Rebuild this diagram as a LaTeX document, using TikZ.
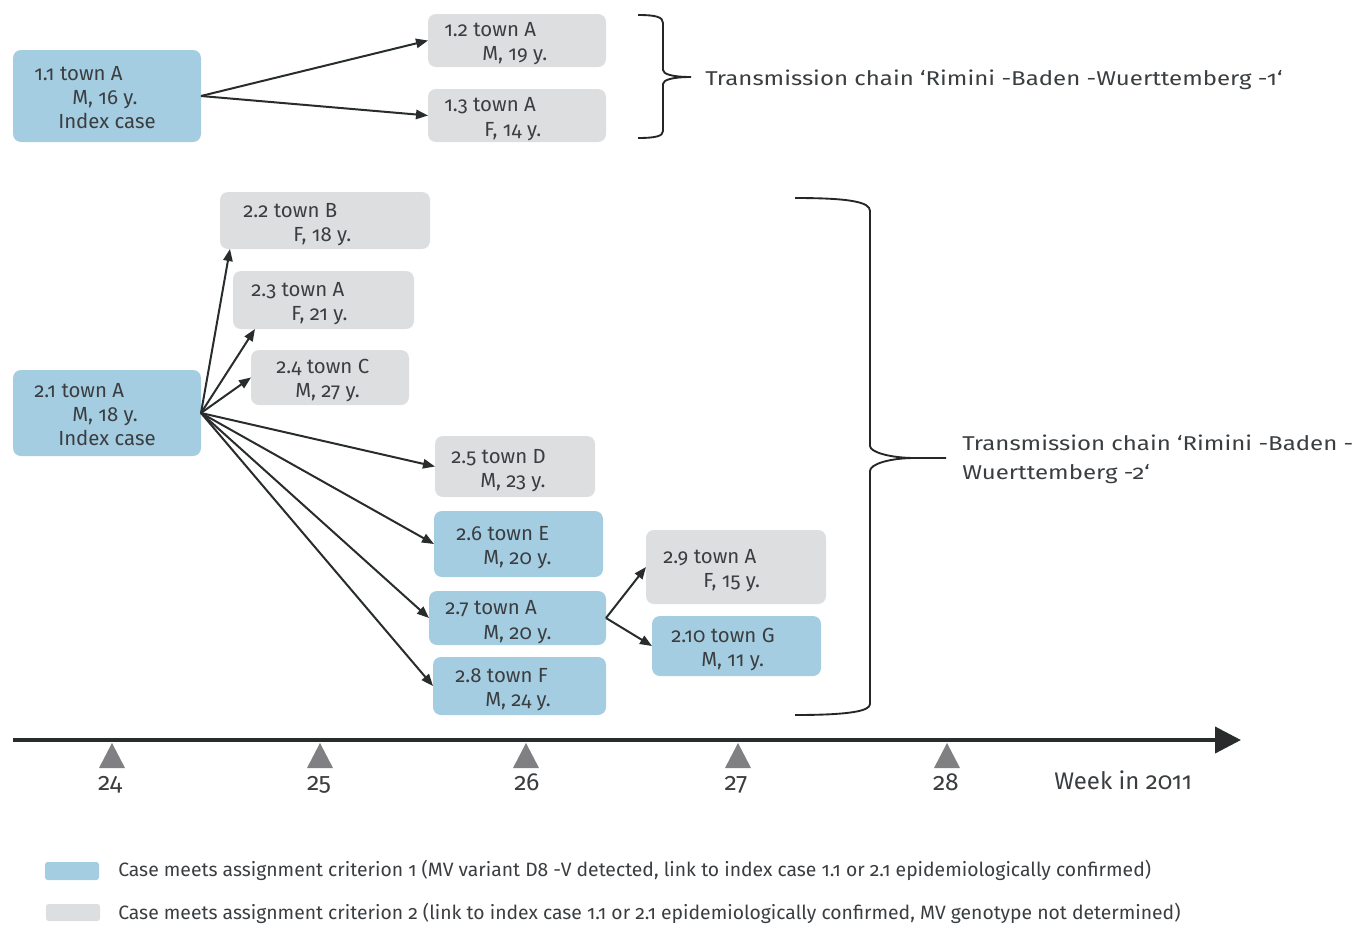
\documentclass[tikz,border=0pt]{standalone}
\usepackage{fontspec}
\setmainfont{Fira Sans}[Numbers=OldStyle]
\newfontfamily\widefont{Fira Sans}[Numbers=OldStyle, FakeStretch=1.2]
\usetikzlibrary{arrows.meta,calc}
\definecolor{cblue}{RGB}{165,205,225}
\definecolor{cgray}{RGB}{221,222,224}
\definecolor{ctext}{RGB}{58,62,65}
\definecolor{carrow}{RGB}{40,44,45}
\definecolor{ctick}{RGB}{128,128,130}
\begin{document}
\begin{tikzpicture}[x=0.75pt,y=-0.75pt,
  box/.style 2 args={inner sep=0pt, outer sep=0pt, anchor=north west, rounded corners=6pt, minimum width=#1*0.75pt, minimum height=#2*0.75pt},
  bluebox/.style={fill=cblue},
  graybox/.style={fill=cgray},
  txt/.style={anchor=base west, inner sep=0pt, text=ctext, font=\fontsize{15.3}{18}\selectfont},
  chaintxt/.style={anchor=base west, inner sep=0pt, text=ctext, font=\widefont\fontsize{15}{18}\selectfont},
  wk/.style={anchor=base, inner sep=0pt, text=ctext, font=\fontsize{18.5}{20}\selectfont},
  legtxt/.style={anchor=base west, inner sep=0pt, text=ctext, font=\fontsize{14.5}{16}\selectfont},
  link/.style={draw=carrow, line width=1.5pt, -{Triangle[length=9pt,width=7pt]}},
  brace/.style={draw=black!85, line width=1.4pt},
]
\useasboundingbox (0,0) rectangle (1372,925);

% chain 1 boxes
\node[box={188}{92}, bluebox] (n11) at (13,50) {};
\node[box={178}{53}, graybox] (n12) at (428,14) {};
\node[box={178}{53}, graybox] (n13) at (428,89) {};
% chain 2 boxes
\node[box={188}{86}, bluebox] (n21) at (13,370) {};
\node[box={210}{57}, graybox] (n22) at (220,192) {};
\node[box={181}{58}, graybox] (n23) at (233,271) {};
\node[box={158}{55}, graybox] (n24) at (251,350) {};
\node[box={160}{61}, graybox] (n25) at (435,436) {};
\node[box={169}{66}, bluebox] (n26) at (434,511) {};
\node[box={177}{54}, bluebox] (n27) at (429,591) {};
\node[box={173}{58}, bluebox] (n28) at (433,657) {};
\node[box={180}{74}, graybox] (n29) at (646,530) {};
\node[box={169}{60}, bluebox] (n210) at (652,616) {};

% texts
\node[txt] (t11a) at (34,80) {1.1 town A};
\node[txt] (t11b) at (72,104) {M, 16 y.};
\node[txt] (t11c) at (58,128) {Index case};
\node[txt] (t12a) at (444,36) {1.2 town A};
\node[txt] (t12b) at (482,60) {M, 19 y.};
\node[txt] (t13a) at (444,111) {1.3 town A};
\node[txt] (t13b) at (484,136) {F, 14 y.};

\node[txt] (t21a) at (34,397) {2.1 town A};
\node[txt] (t21b) at (72,421) {M, 18 y.};
\node[txt] (t21c) at (58,445) {Index case};
\node[txt] (t22a) at (243,217) {2.2 town B};
\node[txt] (t22b) at (293,241) {F, 18 y.};
\node[txt] (t23a) at (251,296) {2.3 town A};
\node[txt] (t23b) at (291,320) {F, 21 y.};
\node[txt] (t24a) at (276,373) {2.4 town C};
\node[txt] (t24b) at (295,397) {M, 27 y.};
\node[txt] (t25a) at (451,463) {2.5 town D};
\node[txt] (t25b) at (480,487) {M, 23 y.};
\node[txt] (t26a) at (456,540) {2.6 town E};
\node[txt] (t26b) at (483,564) {M, 20 y.};
\node[txt] (t27a) at (445,614) {2.7 town A};
\node[txt] (t27b) at (483,639) {M, 20 y.};
\node[txt] (t28a) at (455,682) {2.8 town F};
\node[txt] (t28b) at (485,706) {M, 24 y.};
\node[txt] (t29a) at (663,563) {2.9 town A};
\node[txt] (t29b) at (703,587) {F, 15 y.};
\node[txt] (t210a) at (671,642) {2.10 town G};
\node[txt] (t210b) at (701,666) {M, 11 y.};

% links
\draw[link] (n11.east) -- (n12.west);
\draw[link] (n11.east) -- (n13.west);
\draw[link] (n21.east) -- ($(n22.south west)+(10,0)$);
\draw[link] (n21.east) -- ($(n23.south west)+(22,0)$);
\draw[link] (n21.east) -- (n24.west);
\draw[link] (n21.east) -- (n25.west);
\draw[link] (n21.east) -- (n26.west);
\draw[link] (n21.east) -- (n27.west);
\draw[link] (n21.east) -- (n28.west);
\draw[link] (n27.east) -- (n29.west);
\draw[link] (n27.east) -- (n210.west);

% braces
\coordinate (b1tip) at (691,77);
\draw[brace] (638,15) .. controls (656,15) and (663,17) .. (663,23) -- (663,70)
  .. controls (663,74) and (672,77) .. (b1tip)
  .. controls (672,77) and (663,80) .. (663,84) -- (663,131)
  .. controls (663,136) and (656,138) .. (638,138);
\node[chaintxt] (lab1) at (705,85) {Transmission chain ‘Rimini -Baden -Wuerttemberg -1‘};

\coordinate (b2tip) at (946,458);
\draw[brace] (795,198) .. controls (850,198) and (870,202) .. (870,211) -- (870,446)
  .. controls (870,452) and (890,458) .. (915,458) -- (b2tip);
\draw[brace] (915,458) .. controls (890,458) and (870,464) .. (870,471) -- (870,704)
  .. controls (870,711) and (850,715) .. (795,715);
\node[chaintxt] (lab2a) at (962,450) {Transmission chain ‘Rimini -Baden -};
\node[chaintxt] (lab2b) at (962,479) {Wuerttemberg -2‘};

% timeline
\coordinate (tl0) at (13,740);
\coordinate (tl1) at (1241,740);
\draw[draw=carrow, line width=3pt, -{Triangle[length=19.5pt,width=19.5pt]}] (tl0) -- (tl1);
\foreach \x in {112,320,526,738,947} \fill[ctick] (\x-13,768) -- (\x,743) -- (\x+13,768) -- cycle;
\node[wk] (w24) at (110,790) {24};
\node[wk] (w25) at (319,790) {25};
\node[wk] (w26) at (527,790) {26};
\node[wk] (w27) at (736,790) {27};
\node[wk] (w28) at (946,790) {28};
\node[wk, anchor=base west, font=\fontsize{18}{20}\selectfont] (wlab) at (1054,789) {Week in 2011};

% legend
\node[box={54}{18}, bluebox, rounded corners=2pt] (lg1) at (45,862) {};
\node[box={54}{17}, graybox, rounded corners=2pt] (lg2) at (46,904) {};
\node[legtxt] (lg1t) at (118,876) {Case meets assignment criterion 1 (MV variant D8 -V detected, link to index case 1.1 or 2.1 epidemiologically confirmed)};
\node[legtxt] (lg2t) at (118,919) {Case meets assignment criterion 2 (link to index case 1.1 or 2.1 epidemiologically confirmed, MV genotype not determined)};
\end{tikzpicture}
\end{document}
